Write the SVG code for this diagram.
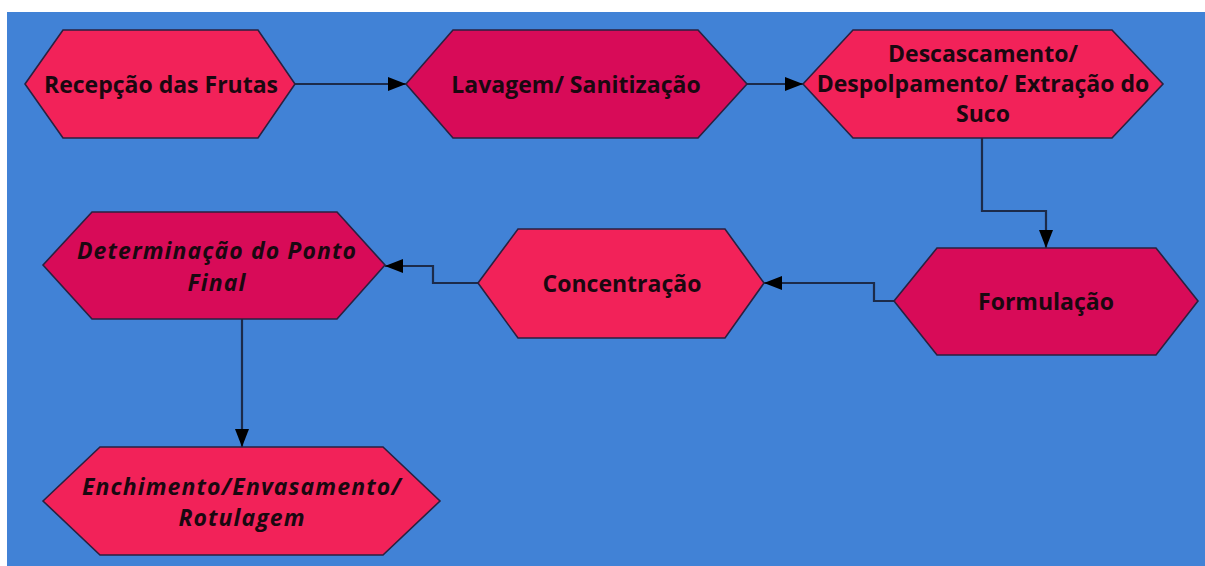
<svg xmlns="http://www.w3.org/2000/svg" width="1205" height="566" viewBox="0 0 1205 566">
<defs>
<style>
.n{stroke:#2a2140;stroke-width:1.6;stroke-linejoin:miter}
.l{fill:#F22259}
.d{fill:#D80B58}
.t{font-family:"Open Sans","Noto Sans","DejaVu Sans",sans-serif;font-weight:bold;font-size:23px;fill:#1a0810;text-anchor:middle;dominant-baseline:central}
.i{font-style:italic;letter-spacing:1.1px}
.c{fill:none;stroke:#1c2b4a;stroke-width:2.2}
</style>
<marker id="ah" markerUnits="userSpaceOnUse" markerWidth="18" markerHeight="14" refX="18" refY="7" orient="auto">
<path d="M0,0 L18,7 L0,14 z" fill="#000"/>
</marker>
</defs>
<rect x="0" y="0" width="1205" height="566" fill="#fff"/>
<rect x="7" y="12" width="1198" height="554" fill="#4182D6"/>
<g id="connectors">
<path class="c" d="M295,84 H406" marker-end="url(#ah)"/>
<path class="c" d="M747,84 H803" marker-end="url(#ah)"/>
<path class="c" d="M982,138 V211 H1046 V248" marker-end="url(#ah)"/>
<path class="c" d="M894,301 H874 V283 H764" marker-end="url(#ah)"/>
<path class="c" d="M478,283 H433 V266 H385" marker-end="url(#ah)"/>
<path class="c" d="M242,319 V447" marker-end="url(#ah)"/>
</g>
<g id="n1">
<polygon class="n l" points="25,84 63,30 258,30 295,84 258,138 63,138"/>
<text class="t" x="161" y="84">Recepção das Frutas</text>
</g>
<g id="n2">
<polygon class="n d" points="406,84 453,30 698,30 747,84 698,138 453,138"/>
<text class="t" x="576" y="84">Lavagem/ Sanitização</text>
</g>
<g id="n3">
<polygon class="n l" points="803,84 853,30 1112,30 1163,84 1112,138 853,138"/>
<text class="t" x="983" y="53">Descascamento/</text>
<text class="t" x="983" y="83">Despolpamento/ Extração do</text>
<text class="t" x="983" y="113">Suco</text>
</g>
<g id="n4">
<polygon class="n d" points="894,301 937,248 1156,248 1198,301 1156,355 937,355"/>
<text class="t" x="1046" y="301">Formulação</text>
</g>
<g id="n5">
<polygon class="n l" points="478,283 518,229 725,229 764,283 725,338 518,338"/>
<text class="t" x="622" y="283">Concentração</text>
</g>
<g id="n6">
<polygon class="n d" points="43,265 92,212 337,212 385,265 337,319 92,319"/>
<text class="t i" x="217" y="250">Determinação do Ponto</text>
<text class="t i" x="217" y="282">Final</text>
</g>
<g id="n7">
<polygon class="n l" points="43,501 100,447 383,447 440,501 383,555 100,555"/>
<text class="t i" x="242" y="486">Enchimento/Envasamento/</text>
<text class="t i" x="242" y="517">Rotulagem</text>
</g>
</svg>
